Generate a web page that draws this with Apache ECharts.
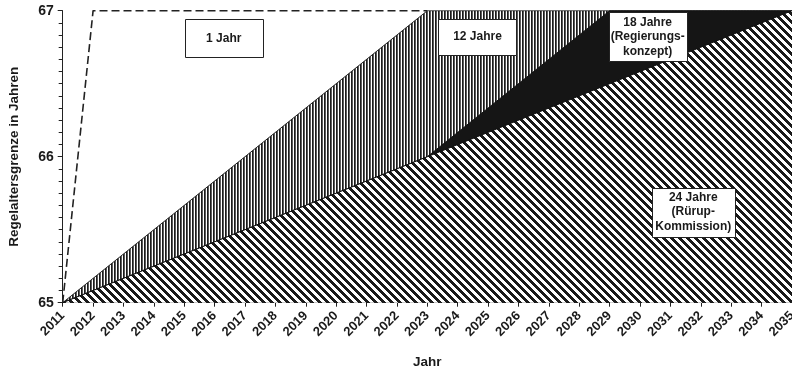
<!DOCTYPE html>
<html>
<head>
<meta charset="utf-8">
<script src="https://cdn.jsdelivr.net/npm/echarts@6/dist/echarts.min.js"></script>
<style>
  html, body { margin: 0; padding: 0; background: #fff; }
  #chart { width: 792px; height: 369px; }
</style>
</head>
<body>
<div id="chart"></div>
<script>
// ---- data ----
const years1 = [2011, 2012, 2023];          // 1 Jahr (dashed)
const age1 = [65, 67, 67];
const years12 = [2011, 2023, 2035];         // 12 Jahre
const age12 = [65, 67, 67];
const years18 = [2011, 2023, 2029, 2035];   // 18 Jahre (Regierungskonzept)
const age18 = [65, 66, 67, 67];
const years24 = [2011, 2035];               // 24 Jahre (Rürup-Kommission)
const age24 = [65, 67];
const yTicks = [65, 66, 67];
const labels = ['1 Jahr', '12 Jahre', '18 Jahre\n(Regierungs-\nkonzept)', '24 Jahre\n(Rürup-\nKommission)'];
const labelYear = [2016.3, 2024.65, 2030.25, 2031.75];
const labelAge = [66.81, 66.82, 66.82, 65.62];

// ---- styles ----
const FONT = '"Liberation Sans", Arial, sans-serif';
const INK = '#1a1a1a';
const boxSizes = [[78, 38], [78, 36], [78, 49], [83, 49]];

function zip(xs, ys) { return xs.map((x, i) => [x, ys[i]]); }

function verticalPattern() {
  const c = document.createElement('canvas');
  c.width = 3; c.height = 3;
  const g = c.getContext('2d');
  g.fillStyle = '#fff'; g.fillRect(0, 0, 3, 3);
  g.fillStyle = '#1a1a1a'; g.fillRect(0, 0, 1, 3);
  g.fillStyle = '#5a5a5a'; g.fillRect(1, 0, 1, 3);
  return c;
}
function diagonalPattern() {
  const n = 8;
  const c = document.createElement('canvas');
  c.width = n; c.height = n;
  const g = c.getContext('2d');
  const img = g.createImageData(n, n);
  for (let y = 0; y < n; y++) for (let x = 0; x < n; x++) {
    const k = (((x - y) % n) + n) % n;
    const v = k < 4 ? 26 : 255;
    const i = (y * n + x) * 4;
    img.data[i] = img.data[i + 1] = img.data[i + 2] = v; img.data[i + 3] = 255;
  }
  g.putImageData(img, 0, 0);
  return c;
}

const chart = echarts.init(document.getElementById('chart'), null, { renderer: 'canvas' });

const option = {
  animation: false,
  backgroundColor: '#fff',
  grid: { left: 62.7, right: 0, top: 10.7, bottom: 66.3, containLabel: false, outerBoundsMode: 'none' },
  xAxis: {
    type: 'value', min: 2011, max: 2035, interval: 1,
    name: 'Jahr', nameLocation: 'middle', nameGap: 53,
    nameTextStyle: { fontFamily: FONT, fontWeight: 'bold', fontSize: 13.5, color: INK },
    axisLine: { show: true, lineStyle: { color: '#222', width: 1 } },
    axisTick: { show: true, length: 4, lineStyle: { color: '#222' } },
    splitLine: { show: false },
    axisLabel: {
      rotate: 45, margin: 11, fontFamily: FONT, fontWeight: 'bold', fontSize: 13, color: INK,
      formatter: v => String(v)
    }
  },
  yAxis: {
    type: 'value', min: 65, max: 67, interval: 1,
    name: 'Regelaltersgrenze in Jahren', nameLocation: 'middle', nameGap: 41,
    nameTextStyle: { fontFamily: FONT, fontWeight: 'bold', fontSize: 13.5, color: INK },
    axisLine: { show: true, lineStyle: { color: '#222', width: 1 } },
    axisTick: { show: true, length: 5, lineStyle: { color: '#222' } },
    minorTick: { show: true, splitNumber: 12, length: 4, lineStyle: { color: '#222' } },
    splitLine: { show: false },
    axisLabel: {
      margin: 9, fontFamily: FONT, fontWeight: 'bold', fontSize: 14, color: INK,
      formatter: v => (yTicks.indexOf(v) >= 0 ? String(v) : '')
    }
  },
  series: [
    {
      name: '1 Jahr', type: 'line', data: zip(years1, age1), symbol: 'none',
      lineStyle: { color: '#222', width: 1.6, type: [8, 4] }, z: 1
    },
    {
      name: '12 Jahre', type: 'line', data: zip(years12, age12), symbol: 'none',
      lineStyle: { color: '#222', width: 1 },
      areaStyle: { origin: 'start', opacity: 1, color: { image: verticalPattern(), repeat: 'repeat' } }, z: 2
    },
    {
      name: '18 Jahre', type: 'line', data: zip(years18, age18), symbol: 'none',
      lineStyle: { color: '#111', width: 1 },
      areaStyle: { origin: 'start', opacity: 1, color: '#151515' }, z: 3
    },
    {
      name: '24 Jahre', type: 'line', data: zip(years24, age24), symbol: 'none',
      lineStyle: { color: '#111', width: 1 },
      areaStyle: { origin: 'start', opacity: 1, color: { image: diagonalPattern(), repeat: 'repeat' } }, z: 4
    }
  ]
};
chart.setOption(option);

const graphics = [];
labels.forEach((t, i) => {
  const p = chart.convertToPixel({ gridIndex: 0 }, [labelYear[i], labelAge[i]]);
  const [w, h] = boxSizes[i];
  graphics.push({
    type: 'rect', z: 100, zlevel: 0,
    shape: { x: Math.round(p[0] - w / 2) + 0.5, y: Math.round(p[1] - h / 2) + 0.5, width: w, height: h },
    style: { fill: '#fff', stroke: '#222', lineWidth: 1 }
  });
  graphics.push({
    type: 'text', z: 101, zlevel: 0, x: p[0], y: p[1],
    style: { text: t, align: 'center', verticalAlign: 'middle', fill: INK,
             font: 'bold 12px ' + FONT, lineHeight: 14.5 }
  });
});
chart.setOption({ graphic: { elements: graphics } });
</script>
</body>
</html>
